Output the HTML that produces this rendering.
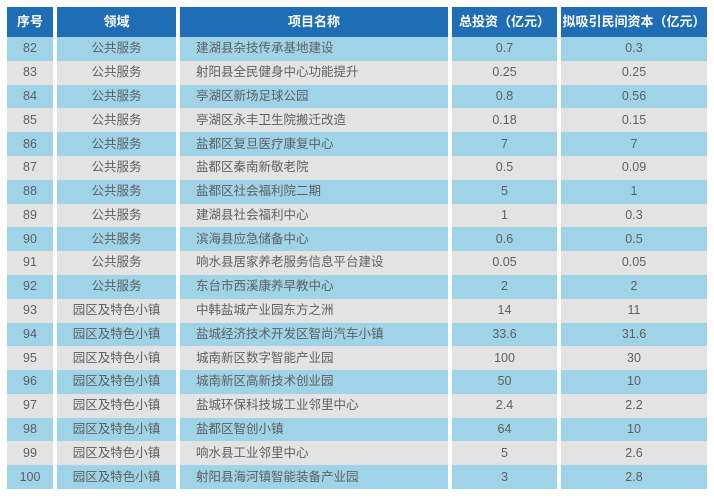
<!DOCTYPE html>
<html><head><meta charset="utf-8"><style>
body{margin:0;width:714px;height:499px;background:#fff;overflow:hidden;font-family:"Liberation Sans","Noto Sans CJK SC",sans-serif;}
.c{position:absolute;box-sizing:border-box;display:flex;align-items:center;justify-content:center;font-size:12.5px;line-height:1;color:#606060;white-space:nowrap;padding-bottom:1px;}
.h{background:#1f6db5;color:#fff;font-weight:bold;font-size:13px;}
.b{background:#9fd3e8;}
.g{background:#e3e3e3;}
.l{justify-content:flex-start;padding-left:16px;}
</style></head><body>
<div id="t"></div>
<script>
var cols=[[7,46],[57,119],[180,268],[452,105],[561,146]];
var hd=["序号","领域","项目名称","总投资（亿元）","拟吸引民间资本（亿元）"];
var rows=[
["82","公共服务","建湖县杂技传承基地建设","0.7","0.3"],
["83","公共服务","射阳县全民健身中心功能提升","0.25","0.25"],
["84","公共服务","亭湖区新场足球公园","0.8","0.56"],
["85","公共服务","亭湖区永丰卫生院搬迁改造","0.18","0.15"],
["86","公共服务","盐都区复旦医疗康复中心","7","7"],
["87","公共服务","盐都区秦南新敬老院","0.5","0.09"],
["88","公共服务","盐都区社会福利院二期","5","1"],
["89","公共服务","建湖县社会福利中心","1","0.3"],
["90","公共服务","滨海县应急储备中心","0.6","0.5"],
["91","公共服务","响水县居家养老服务信息平台建设","0.05","0.05"],
["92","公共服务","东台市西溪康养早教中心","2","2"],
["93","园区及特色小镇","中韩盐城产业园东方之洲","14","11"],
["94","园区及特色小镇","盐城经济技术开发区智尚汽车小镇","33.6","31.6"],
["95","园区及特色小镇","城南新区数字智能产业园","100","30"],
["96","园区及特色小镇","城南新区高新技术创业园","50","10"],
["97","园区及特色小镇","盐城环保科技城工业邻里中心","2.4","2.2"],
["98","园区及特色小镇","盐都区智创小镇","64","10"],
["99","园区及特色小镇","响水县工业邻里中心","5","2.6"],
["100","园区及特色小镇","射阳县海河镇智能装备产业园","3","2.8"]];
var h="";
for(var j=0;j<5;j++)h+='<div class="c h" style="left:'+cols[j][0]+'px;top:7px;width:'+cols[j][1]+'px;height:30px">'+hd[j]+'</div>';
var y0=37,rh=452/19;
for(var i=0;i<rows.length;i++){
 var t=y0+i*rh,cl=i%2?"g":"b";
 for(var j=0;j<5;j++)h+='<div class="c '+cl+(j==2?' l':'')+'" style="left:'+cols[j][0]+'px;top:'+t.toFixed(1)+'px;width:'+cols[j][1]+'px;height:'+(rh+0.5).toFixed(1)+'px">'+rows[i][j]+'</div>';
}
document.getElementById("t").innerHTML=h;
</script>
</body></html>
